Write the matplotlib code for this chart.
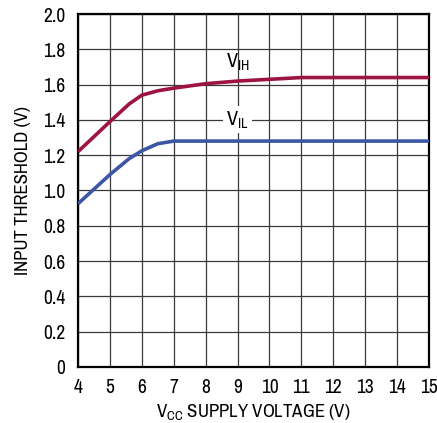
import matplotlib
matplotlib.use("Agg")
import matplotlib.pyplot as plt
from matplotlib.ticker import FixedLocator, FixedFormatter

plt.rcParams['font.family'] = ['Archivo Narrow', 'Liberation Sans Narrow', 'DejaVu Sans']

# supply voltage (V)
vcc = [4, 5, 5.6, 6, 6.5, 7, 8, 9, 10, 11, 12, 13, 14, 15]
# input thresholds (V)
vih = [1.22, 1.39, 1.49, 1.54, 1.565, 1.58, 1.605, 1.62, 1.63, 1.64, 1.64, 1.64, 1.64, 1.64]
vil = [0.925, 1.09, 1.18, 1.225, 1.265, 1.28, 1.28, 1.28, 1.28, 1.28, 1.28, 1.28, 1.28, 1.28]

xticks = list(range(4, 16))
yticks = [0, 0.2, 0.4, 0.6, 0.8, 1.0, 1.2, 1.4, 1.6, 1.8, 2.0]
ylabels = ['0', '0.2', '0.4', '0.6', '0.8', '1.0', '1.2', '1.4', '1.6', '1.8', '2.0']

fig = plt.figure(figsize=(4.37, 4.23), dpi=100)
ax = fig.add_axes([0.1785, 0.1324, 0.8032, 0.8345])

ax.plot(vcc, vih, color='#9E1440', lw=2.6, solid_capstyle='butt', zorder=3)
ax.plot(vcc, vil, color='#3B57A6', lw=2.6, solid_capstyle='butt', zorder=3)

ax.set_xlim(4, 15)
ax.set_ylim(0, 2.0)
ax.xaxis.set_major_locator(FixedLocator(xticks))
ax.yaxis.set_major_locator(FixedLocator(yticks))
ax.yaxis.set_major_formatter(FixedFormatter(ylabels))
ax.grid(True, color='#3a3a3a', lw=0.9)
ax.tick_params(length=0, labelsize=14)
ax.tick_params(axis='x', pad=8)
ax.tick_params(axis='y', pad=9)
for s in ax.spines.values():
    s.set_linewidth(1.6)

ax.text(9.0, 1.665, r'V$_{\mathregular{IH}}$', fontsize=14.5, ha='center', va='bottom')
ax.text(9.0, 1.40, r'V$_{\mathregular{IL}}$', fontsize=14.5, ha='center', va='center',
        bbox=dict(facecolor='white', edgecolor='none', pad=2))

ax.set_ylabel('INPUT THRESHOLD (V)', fontsize=13.5, labelpad=9)
ax.set_xlabel(r'V$_{\mathregular{CC}}$ SUPPLY VOLTAGE (V)', fontsize=13.5, labelpad=4)

fig.savefig('out.png', dpi=100)
